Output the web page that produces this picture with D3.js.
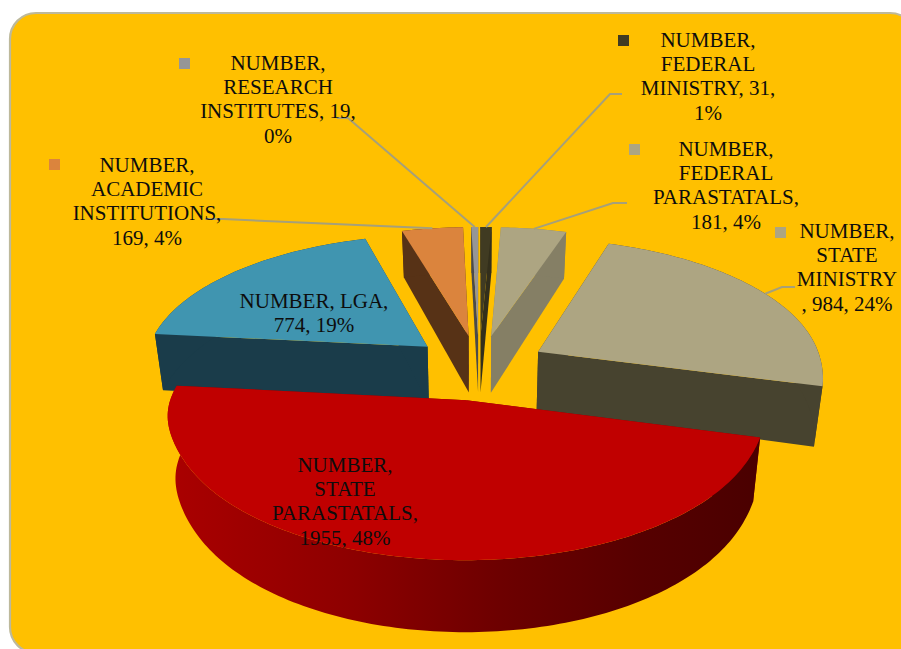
<!DOCTYPE html>
<html>
<head>
<meta charset="utf-8">
<script src="https://cdnjs.cloudflare.com/ajax/libs/d3/7.8.5/d3.min.js"></script>
<style>html,body{margin:0;padding:0;background:#fff;overflow:hidden}svg{display:block}</style>
</head>
<body>
<svg id="chart" width="901" height="649"></svg>
<script>
// ---- data ----
const categories = ["FEDERAL MINISTRY","FEDERAL PARASTATALS","STATE MINISTRY","STATE PARASTATALS","LGA","ACADEMIC INSTITUTIONS","RESEARCH INSTITUTES"];
const seriesValues = [31,181,984,1955,774,169,19];
const percentLabels = ["1%","4%","24%","48%","19%","4%","0%"];
const labelLines = [
  ["NUMBER,","FEDERAL","MINISTRY, 31,","1%"],
  ["NUMBER,","FEDERAL","PARASTATALS,","181, 4%"],
  ["NUMBER,","STATE","MINISTRY",", 984, 24%"],
  ["NUMBER,","STATE","PARASTATALS,","1955, 48%"],
  ["NUMBER, LGA,","774, 19%"],
  ["NUMBER,","ACADEMIC","INSTITUTIONS,","169, 4%"],
  ["NUMBER,","RESEARCH","INSTITUTES, 19,","0%"]
];
// ---- style & layout ----
const topColors  = ["#403B22","#ADA582","#ADA582","#C00000","#4095B0","#DB843D","#969696"];
const wallColors = ["#332F1B","#857F65","#47432F","#800000","#1A3C4A","#573216","#4A4A4A"];
const labelCx    = [708,726,847,345,314,147,278];
const labelBase  = [47,156,238,472,308,172,70];
const keyPos     = [[618,35],[629,144],[775,227],[270,459],[213,294],[49,159],[179,58]];
const leaderFrom = [[622,94],[627,203],[795,287],null,null,[205,219],[337,118]];
const leaderElbow= [[610,94],[613,203],[782,287],null,null,[223,219],[348,118]];

const W=901,H=649, cx=479, cy=367, R=300, explode=72, tilt=0.474;
const svg=d3.select("#chart");
svg.append("rect").attr("x",10).attr("y",13).attr("width",906).attr("height",640).attr("rx",26).attr("ry",26)
   .attr("fill","#FFC000").attr("stroke","#BDB99B").attr("stroke-width",2.2);

const defs=svg.append("defs");
const rimGrad=defs.append("linearGradient").attr("id","rimRed").attr("gradientUnits","userSpaceOnUse")
  .attr("x1",170).attr("x2",760).attr("y1",0).attr("y2",0);
[[0,"#AA0000"],[0.3,"#8E0000"],[0.55,"#6E0000"],[0.8,"#560000"],[1,"#4A0000"]].forEach(s=>
  rimGrad.append("stop").attr("offset",s[0]).attr("stop-color",s[1]));

const pie=d3.pie().sort(null).startAngle(0).endAngle(2*Math.PI);
const arcs=pie(seriesValues);

const persp=z=>0.947+0.00041*z+0.012*Math.exp(-Math.pow((z-90)/70,2));
const depth=z=>59+0.035*z;
function project(X,Z,bottom){
  const s=persp(Z);
  let x=cx+X*s, y=cy+Z*tilt*s;
  if(bottom){ x=cx+(x-cx)*0.975; y+=depth(Z); }
  return [x,y];
}
function slicePoint(d,a,r,bottom){
  const mid=(d.startAngle+d.endAngle)/2;
  const X=explode*Math.sin(mid)+r*Math.sin(a);
  const Z=-explode*Math.cos(mid)-r*Math.cos(a);
  return project(X,Z,bottom);
}
const line=d3.line();
const closed=pts=>line(pts)+"Z";
const samples=d=>{
  const n=Math.max(2,Math.ceil((d.endAngle-d.startAngle)/0.02));
  return d3.range(n+1).map(i=>d.startAngle+(d.endAngle-d.startAngle)*i/n);
};
// painter's order: back slices first, the big front slice last
const order=[1,0,6,5,4,2,3];
const g=svg.append("g");
order.forEach(i=>{
  const d=arcs[i], as=samples(d), sg=g.append("g");
  const apexT=slicePoint(d,0,0,false), apexB=slicePoint(d,0,0,true);
  const wall=a=>closed([apexT,slicePoint(d,a,R,false),slicePoint(d,a,R,true),apexB]);
  sg.append("path").attr("d",wall(d.startAngle)).attr("fill",wallColors[i]);
  sg.append("path").attr("d",wall(d.endAngle)).attr("fill",wallColors[i]);
  const rim=as.map(a=>slicePoint(d,a,R,false)).concat(as.slice().reverse().map(a=>slicePoint(d,a,R,true)));
  sg.append("path").attr("d",closed(rim)).attr("fill",i===3?"url(#rimRed)":wallColors[i]);
  const top=[apexT].concat(as.map(a=>slicePoint(d,a,R,false)));
  sg.append("path").attr("d",closed(top)).attr("fill",topColors[i]);
});
// leader lines
arcs.forEach((d,i)=>{
  if(!leaderFrom[i]) return;
  const mid=(d.startAngle+d.endAngle)/2;
  const end=slicePoint(d,mid,R,false);
  svg.append("path").attr("d",line([leaderFrom[i],leaderElbow[i],end]))
    .attr("fill","none").attr("stroke","#A6A07A").attr("stroke-width",2);
});
// legend keys + labels
arcs.forEach((d,i)=>{
  svg.append("rect").attr("x",keyPos[i][0]).attr("y",keyPos[i][1]).attr("width",11).attr("height",11).attr("fill",topColors[i]);
  const t=svg.append("text").attr("text-anchor","middle").attr("fill","#0D0D0D")
     .attr("font-family","'Liberation Serif',serif").attr("font-size",21);
  labelLines[i].forEach((l,j)=>t.append("tspan").attr("x",labelCx[i]).attr("y",labelBase[i]+j*24.2).text(l));
});
</script>
</body>
</html>
